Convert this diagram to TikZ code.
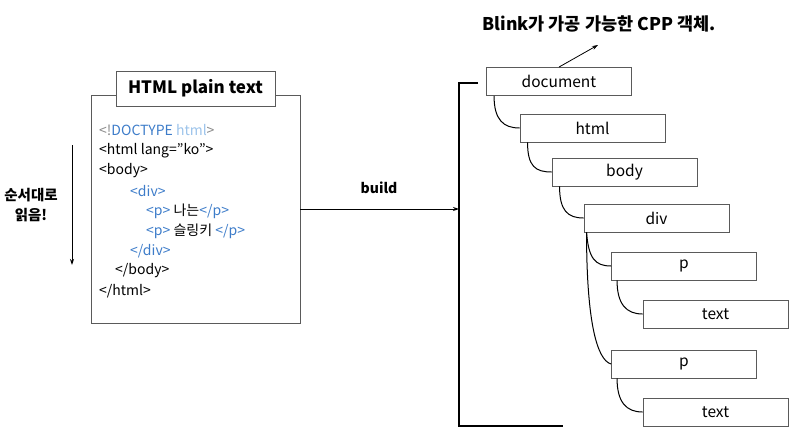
\documentclass[tikz,border=0pt]{standalone}
\usepackage{fontspec}
\setmainfont{Noto Sans CJK KR}
\usetikzlibrary{arrows.meta}
\definecolor{boxgray}{HTML}{5A5A5A}
\definecolor{tagblue}{HTML}{3D7CC9}
\definecolor{lightblue}{HTML}{9CC3EA}
\definecolor{dimgray}{HTML}{8A8A8A}
\tikzset{
  treebox/.style={draw=boxgray, line width=0.9pt, fill=white, minimum width=145pt, minimum height=28pt, inner sep=0pt, font=\fontsize{15.5}{17}\selectfont},
  codeline/.style={anchor=west, inner sep=0pt, font=\fontsize{14}{16}\selectfont},
  link/.style={line width=1pt, black},
  arr/.style={line width=1pt, -{Stealth[length=6pt,width=4pt]}}
}
\begin{document}
\begin{tikzpicture}[x=1pt,y=-1pt]
\useasboundingbox (0,0) rectangle (800,436);
% main source box
\node[draw=boxgray, line width=0.9pt, minimum width=209pt, minimum height=228pt, inner sep=0pt] (src) at (195.5,209) {};
\node[draw=boxgray, line width=0.9pt, fill=white, minimum width=159pt, minimum height=35pt, inner sep=0pt, font=\fontsize{17}{19}\selectfont\bfseries] (title) at (195.5,88.5) {HTML plain text};
% code
\node[codeline] (l1) at (99,130) {\textcolor{dimgray}{<!}\textcolor{tagblue}{DOCTYPE} \textcolor{lightblue}{html}\textcolor{dimgray}{>}};
\node[codeline] (l2) at (99,151) {<html lang="ko">};
\node[codeline] (l3) at (99,171) {<body>};
\node[codeline, text=tagblue] (l4) at (130,191) {<div>};
\node[codeline] (l5) at (146,211) {\textcolor{tagblue}{<p>} 나는\textcolor{tagblue}{</p>}};
\node[codeline] (l6) at (146,231) {\textcolor{tagblue}{<p>} 슬링키 \textcolor{tagblue}{</p>}};
\node[codeline, text=tagblue] (l7) at (130,251) {</div>};
\node[codeline] (l8) at (115,271) {</body>};
\node[codeline] (l9) at (99,291) {</html>};
% reading order
\coordinate (rs) at (72,145);
\coordinate (re) at (72,265);
\draw[arr] (rs) -- (re);
\node[font=\fontsize{14.5}{20}\selectfont\bfseries, align=center] (order) at (31,205) {순서대로\\읽음!};
% bracket
\coordinate (bt) at (459,83);
\coordinate (btr) at (478,83);
\coordinate (bb) at (459,426);
\coordinate (bbr) at (563,426);
\coordinate (bm) at (459,209);
\draw[line width=1.8pt] (btr) -- (bt) -- (bb) -- (bbr);
\draw[arr] (src.east) -- (bm);
\node[font=\fontsize{14}{16}\selectfont\bfseries] (build) at (379,188) {build};
% tree
\node[treebox] (doc) at (559,81.5) {document};
\node[treebox] (html) at (592.5,128) {html};
\node[treebox] (body) at (624.5,172) {body};
\node[treebox] (div) at (656.5,218) {div};
\node[treebox] (p1) at (684,266) {p};
\node[treebox] (t1) at (715.5,314) {text};
\node[treebox] (p2) at (684,364) {p};
\node[treebox] (t2) at (715.5,412) {text};
\draw[link] ([xshift=8pt]doc.south west) .. controls +(0,24) and +(-16,0) .. (html.west);
\draw[link] ([xshift=8pt]html.south west) .. controls +(0,24) and +(-16,0) .. (body.west);
\draw[link] ([xshift=8pt]body.south west) .. controls +(0,24) and +(-16,0) .. (div.west);
\draw[link] ([xshift=3pt]div.south west) .. controls +(2,26) and +(-16,0) .. (p1.west);
\draw[link] ([xshift=3pt]div.south west) .. controls +(0,90) and +(-14,-4) .. (p2.west);
\draw[link] ([xshift=6pt]p1.south west) .. controls +(0,24) and +(-16,0) .. (t1.west);
\draw[link] ([xshift=6pt]p2.south west) .. controls +(0,24) and +(-16,0) .. (t2.west);
% annotation
\node[font=\fontsize{17.5}{19}\selectfont\bfseries] (note) at (599,24) {Blink가 가공 가능한 CPP 객체.};
\coordinate (na) at (598,45);
\draw[arr, line width=0.8pt] (doc.north) -- (na);
\end{tikzpicture}
\end{document}
